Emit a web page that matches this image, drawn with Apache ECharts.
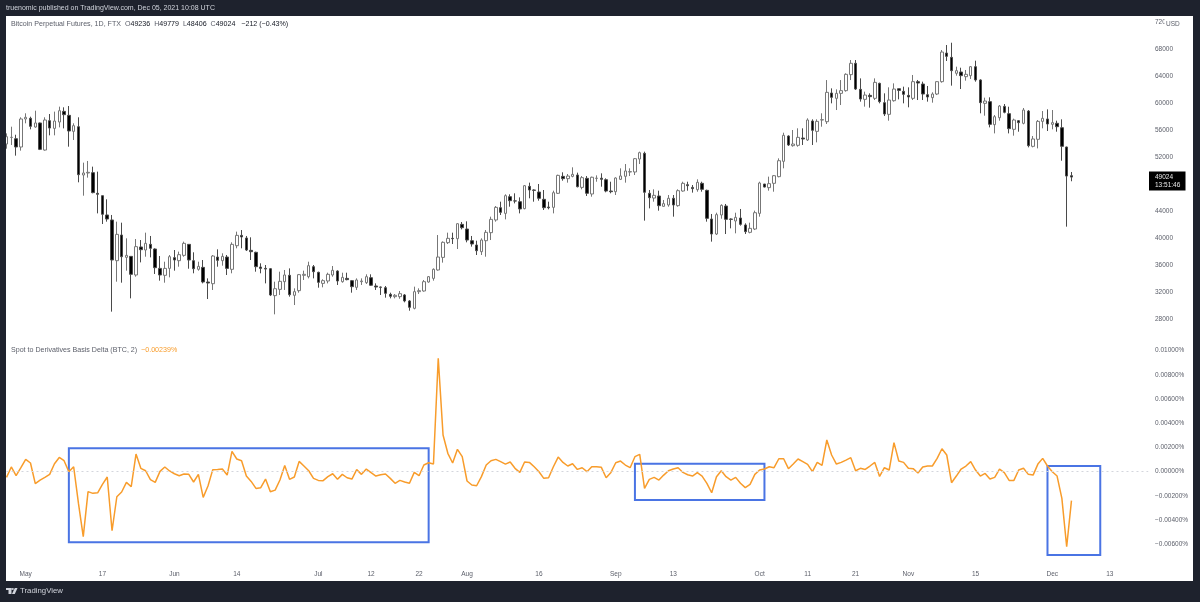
<!DOCTYPE html>
<html>
<head>
<meta charset="utf-8">
<title>Bitcoin Perpetual Futures</title>
<script src="https://cdn.jsdelivr.net/npm/echarts@6/dist/echarts.min.js"></script>
<style>
html,body{margin:0;padding:0;background:#1e222d;}
#main{width:1200px;height:602px;}
</style>
</head>
<body>
<div id="main"></div>
<script>
// daily candles, first one is Apr 27 2021, last one Dec 5 2021
var opens = [
53920,54900,54710,53480,57630,57730,56440,57040,53030,57380,
56240,57180,58760,58170,55800,56490,49330,49630,49680,46620,
46270,43410,42670,36640,40440,37130,37280,34520,38670,38220,
39060,38370,35500,34470,35500,37090,36640,37430,39060,36640,
35360,35650,33480,33230,37180,36640,37180,35360,38860,40390,
40000,38170,37880,35700,35500,35450,31460,32390,33530,34470,
31510,32200,34470,34270,35750,34910,33280,33630,34520,35110,
33530,34020,33680,32690,33530,33380,34120,32890,32740,32640,
31650,31310,31310,31560,30670,29580,32050,32150,33480,34020,
35260,37130,39310,39950,39900,42020,41330,39600,38960,37970,
39600,40790,42670,44490,43650,46120,45500,45380,44350,47650,
47110,46810,45730,44590,44540,46620,49130,48790,49130,49330,
47500,48840,46520,48830,48860,48640,46960,46860,48690,49140,
49780,49780,51700,52540,46620,45920,46220,44690,44890,45880,
44790,46960,47900,47500,47160,48100,47060,42810,40590,43410,
44740,42810,42520,42960,41930,40840,41330,43650,48000,47460,
48100,49090,51360,55110,53680,53730,54810,54520,57330,55800,
57480,57230,61480,60690,61430,61830,64200,65880,62020,60540,
61130,60690,62910,60050,58320,60340,62120,61730,61130,60690,
63160,62810,61230,60790,61330,63160,67400,66760,64400,64590,
63900,64050,65380,63410,59950,60200,56790,57820,59500,58420,
56100,57380,56990,58810,53580,54620,57280,57630,56840,56990,
56340,53480,49236];
var closes = [
55010,54920,53480,57630,57880,56540,57040,53130,57480,56290,
57330,58860,58270,55850,56640,49380,49630,49730,46720,46470,
43510,42810,36740,40540,37230,37430,34620,38720,38270,39210,
38470,35600,34520,35500,37230,36740,37530,39210,36740,35450,
35800,33480,33330,37330,36690,37280,35500,39060,40390,40150,
38220,37970,35750,35500,35400,31560,32490,33580,34520,31600,
32050,34570,34620,35900,35010,33430,33680,34620,35210,33630,
34170,33830,32790,33780,33630,34270,33000,32740,32690,31800,
31360,31510,31750,30670,29730,32050,32200,33530,34270,35360,
37180,39360,39950,39900,42120,41530,39700,39110,38120,39700,
40840,42760,44540,43800,46270,45530,45480,44300,47750,47110,
47060,45880,44490,44490,46710,49280,48790,49180,49430,47600,
48940,46620,49000,48860,48690,46960,46860,48890,49190,49930,
49830,51750,52640,46770,45970,46320,44790,45090,45880,44890,
47010,48100,47750,47310,48250,47210,42910,40590,43460,44840,
42760,42760,43060,42020,40940,41430,43750,48150,47550,48050,
49230,51450,55210,53780,53920,54910,54670,57480,55950,57280,
57530,61580,60840,61430,61830,64250,65880,62070,60590,61180,
60940,63060,60200,58370,60440,62070,61870,61280,60890,63160,
62960,61330,60890,61330,63160,67550,66910,64790,64790,64050,
64250,65380,63410,60050,60290,56840,57970,59550,58620,56200,
57480,57090,58960,53680,54670,57280,57730,56890,57090,56490,
53580,49180,49024];
var highs = [
55500,56490,55300,57880,58470,57970,58860,57100,57880,58370,
58720,59460,59360,59550,56990,57880,51160,51410,50570,49830,
46270,45730,43410,42420,42270,39950,37280,39850,39700,40790,
40300,38470,37330,36490,37480,38220,37980,39460,39060,37880,
36490,36740,34020,37480,38320,37730,37480,39360,40940,41180,
40300,40100,37970,36250,36000,35550,33530,35010,35260,35500,
32540,34670,35160,36490,36000,35010,33880,34860,35850,35210,
34860,34860,33780,34020,34020,34620,34620,33280,32790,32890,
31900,31700,32150,31700,30810,32790,32540,33780,34370,35500,
40440,39500,40790,40790,42170,42370,42470,40300,39600,39950,
41180,43160,44740,45380,46470,46470,46620,46020,47850,48200,
47210,48000,47110,45380,47010,49380,49730,49480,50470,49680,
49180,49180,49090,49280,49580,48840,48340,48990,50320,50960,
50320,51850,52790,52790,47110,47210,47010,45630,46370,46370,
47210,48340,48340,47850,48690,48340,47160,43560,43750,44990,
45040,42910,43750,44300,42170,42270,44050,48340,48000,49090,
49330,51800,55600,55210,56000,56250,56250,57730,57580,57580,
58470,63400,62170,62020,63400,64400,66370,66370,63650,61680,
61430,63650,63010,61430,62320,62910,62120,62420,62320,64150,
63410,63160,62520,61580,63210,67850,68590,68930,65380,65230,
64890,65480,66270,63510,60790,60840,58220,59700,59850,59450,
57680,57480,59260,58960,55110,57480,58810,59060,58960,57380,
57580,53530,49779];
var lows = [
53230,53780,52200,52940,56990,56100,56340,53030,52940,55210,
55210,56390,56240,53530,54520,48250,46270,48940,46620,43650,
42070,42420,29090,33530,33380,35160,31060,34270,36390,37230,
37130,34670,33680,33380,34170,35160,35750,37230,35450,34770,
35160,33280,30960,32300,35750,35900,34520,34770,38470,38470,
38070,36740,35010,34770,33280,31400,28690,31560,32300,31310,
30070,31900,33780,34020,34020,32640,32690,33280,34270,33040,
33380,33730,31900,32300,33040,33190,32890,32300,31560,31160,
31060,31060,31000,30470,29230,29430,31700,32050,33380,33680,
35160,36350,39110,39110,38370,41280,39360,38720,37480,37480,
37230,39700,42420,43410,42760,44640,45130,43650,44250,45880,
45380,45530,44150,44250,43650,46520,48490,48200,48990,47500,
47210,46220,46120,48340,47600,46770,46620,46370,48590,48200,
49180,49330,50960,42570,44390,45380,44050,44640,44640,43160,
44640,46860,47010,46720,46860,46860,42420,39460,40440,42860,
40590,41430,40690,41830,40590,40690,41180,43160,47500,47010,
46860,48990,50320,53630,53530,53530,53780,54370,53780,54170,
56490,56890,59950,58960,59700,61680,63400,61930,60200,59460,
59310,60440,59950,58070,57380,60200,60540,59950,59360,60440,
60440,60440,60200,60050,61180,63010,66220,62570,64050,62070,
63310,63560,63160,58470,58120,56390,55500,57380,58470,55500,
55160,55750,56840,53430,53430,53280,56250,55850,56100,55750,
51450,41680,48406];

// indicator, in units of 0.00001 %
var basisDelta = [
-47,39,-33,33,102,72,-99,-69,-47,-22,
66,118,91,0,41,-262,-537,-165,-179,-174,
-105,-44,-488,-207,-168,-88,-124,146,28,8,
-66,-88,3,39,6,-17,-33,-19,-22,-85,
-22,-212,-118,17,19,22,-28,168,105,91,
-36,-80,-138,-132,-61,-165,-152,-69,52,-63,
-44,85,47,8,-55,-72,-74,-41,-17,-63,
-22,-50,-61,17,-22,22,-8,-36,-25,-19,
-55,-96,-72,-85,-96,-6,-33,55,74,63,
937,303,152,72,185,124,-77,-110,-116,-41,
55,91,102,83,63,80,28,-6,80,77,
41,0,-55,-50,41,121,77,47,66,19,
33,0,41,41,36,-50,-6,74,88,55,
33,124,143,-138,-63,-47,-69,-28,8,22,
33,-6,-25,-36,-8,-36,-96,-174,-41,8,
-41,-69,-47,-96,-132,-105,-22,14,22,41,
33,107,107,25,63,105,83,61,0,77,
52,262,138,63,77,96,116,8,28,19,
47,77,-39,33,14,240,88,77,28,25,
-11,39,47,47,110,190,138,-91,-36,22,
47,83,14,-36,-14,-61,-47,22,-8,-72,
-72,14,28,-22,-28,63,110,47,0,-36,
-220,-620,-239];

// drawn boxes: from, to, top, bottom
var boxFrom = ['05-10','09-05','11-30'];
var boxTo = ['07-24','10-02','12-11'];
var boxTop = [193,66,47];
var boxBottom = [-583,-234,-688];

var tickDays = ['05-01','05-17','06-01','06-14','07-01','07-12','07-22','08-01','08-16','09-01','09-13','10-01','10-11','10-21','11-01','11-15','12-01','12-13'];
var tickNames = ['May','17','Jun','14','Jul','12','22','Aug','16','Sep','13','Oct','11','21','Nov','15','Dec','13'];

var axisDays = [];
var d = new Date(Date.UTC(2021,3,27));
for(var i=0;i<248;i++){
    axisDays.push(d.toISOString().slice(5,10));
    d.setUTCDate(d.getUTCDate()+1);
}

var candles = opens.map(function(o,i){
    return [o,closes[i],lows[i],highs[i]];
});
var boxes = boxFrom.map(function(f,i){
    return [{xAxis:f,yAxis:boxTop[i]},{xAxis:boxTo[i],yAxis:boxBottom[i]}];
});

var font = '"Liberation Sans", sans-serif';
var gray = '#5d606b';
var chart = echarts.init(document.getElementById('main'));

function legendText(color,size){
    return {color:color,fontSize:size,fontWeight:'normal',fontFamily:font};
}

chart.setOption({
    backgroundColor:'#1e222d',
    animation:false,
    textStyle:{fontFamily:font},
    title:[{
        text:'truenomic published on TradingView.com, Dec 05, 2021 10:08 UTC',
        left:6,top:5,padding:0,
        textStyle:legendText('#d1d4dc',7)
    },{
        text:'{g|Bitcoin Perpetual Futures, 1D, FTX  O}{b|49236}{g|  H}{b|49779}{g|  L}{b|48406}{g|  C}{b|49024}{b|   \u2212212 (\u22120.43%)}',
        left:11,top:21,padding:0,
        textStyle:{fontWeight:'normal',rich:{g:legendText(gray,7.1),b:legendText('#131722',7.1)}}
    },{
        text:'{g|Spot to Derivatives Basis Delta (BTC, 2)  }{o|\u22120.00239%}',
        left:11,top:346.5,padding:0,
        textStyle:{fontWeight:'normal',rich:{g:legendText(gray,7.1),o:legendText('#f89c2b',7.1)}}
    },{
        text:'TradingView',
        left:20,top:587,padding:0,
        textStyle:legendText('#d1d4dc',7.8)
    }],
    grid:[
        {left:4.1,top:22,width:1189.7,height:324},
        {left:4.1,top:350.7,width:1189.7,height:217.8}
    ],
    xAxis:[{
        type:'category',gridIndex:0,data:axisDays,show:false
    },{
        type:'category',gridIndex:1,data:axisDays,
        axisLine:{show:false},axisTick:{show:false},splitLine:{show:false},
        axisLabel:{
            color:gray,fontSize:6.5,margin:2,fontFamily:font,
            interval:function(i,v){return tickDays.indexOf(v)>=0;},
            formatter:function(v){return tickNames[tickDays.indexOf(v)];}
        }
    }],
    yAxis:[{
        type:'value',gridIndex:0,position:'right',min:24000,max:72000,interval:4000,
        axisLine:{show:false},axisTick:{show:false},splitLine:{show:false},
        axisLabel:{
            inside:true,align:'left',margin:38.8,color:gray,fontSize:6.5,fontFamily:font,showMinLabel:false,
            formatter:function(v){return String(v);}
        }
    },{
        type:'value',gridIndex:1,position:'right',min:-800,max:1000,interval:200,
        axisLine:{show:false},axisTick:{show:false},splitLine:{show:false},
        axisLabel:{
            inside:true,align:'left',margin:38.8,color:gray,fontSize:6.5,fontFamily:font,showMinLabel:false,
            formatter:function(v){return (v/100000).toFixed(5).replace('-','\u2212')+'%';}
        }
    }],
    series:[{
        name:'BTC-PERP',
        type:'candlestick',
        xAxisIndex:0,yAxisIndex:0,
        data:candles,
        barWidth:3,
        itemStyle:{color:'#ffffff',color0:'#000000',borderColor:'#777777',borderColor0:'#4a4a4a',borderWidth:1}
    },{
        name:'Basis Delta',
        type:'line',
        xAxisIndex:1,yAxisIndex:1,
        data:basisDelta,
        showSymbol:false,
        lineStyle:{color:'#f89c2b',width:1.5},
        markLine:{
            silent:true,symbol:'none',label:{show:false},
            lineStyle:{color:'#d4d6dd',type:[2,3],width:1},
            data:[[{xAxis:0,yAxis:0},{xAxis:238,yAxis:0}]]
        },
        markArea:{
            silent:true,label:{show:false},
            itemStyle:{color:'rgba(0,0,0,0)',borderColor:'#4a74e4',borderWidth:2},
            data:boxes
        }
    }]
});

// things that sit on top of the plot: frame cover, price tag, USD, logo
var lastY = chart.convertToPixel({yAxisIndex:0},closes[closes.length-1]);
chart.setOption({graphic:[
    {type:'rect',z:-1,silent:true,shape:{x:6,y:16,width:1187,height:565},style:{fill:'#ffffff'}},
    {type:'rect',z:60,silent:true,shape:{x:0,y:0,width:6,height:602},style:{fill:'#1e222d'}},
    {type:'rect',z:60,silent:true,shape:{x:1164.5,y:19,width:16,height:10},style:{fill:'#ffffff'}},
    {type:'text',z:61,silent:true,x:1166,y:21,style:{text:'USD',fill:gray,font:'6.5px '+font}},
    {type:'rect',z:60,silent:true,shape:{x:1149,y:lastY-5.5,width:36.5,height:19},style:{fill:'#000000'}},
    {type:'text',z:61,silent:true,x:1155,y:lastY-3.5,style:{text:'49024',fill:'#e8e8e8',font:'6.5px '+font}},
    {type:'text',z:61,silent:true,x:1155,y:lastY+4.5,style:{text:'13:51:46',fill:'#e8e8e8',font:'6.5px '+font}},
    {type:'rect',z:60,silent:true,shape:{x:6,y:588,width:5.5,height:2},style:{fill:'#d1d4dc'}},
    {type:'rect',z:60,silent:true,shape:{x:8.5,y:588,width:3,height:6},style:{fill:'#d1d4dc'}},
    {type:'circle',z:60,silent:true,shape:{cx:12.8,cy:589,r:1},style:{fill:'#d1d4dc'}},
    {type:'polygon',z:60,silent:true,shape:{points:[[14.8,588],[17.5,588],[14.8,594],[12,594]]},style:{fill:'#d1d4dc'}}
]});
</script>
</body>
</html>
